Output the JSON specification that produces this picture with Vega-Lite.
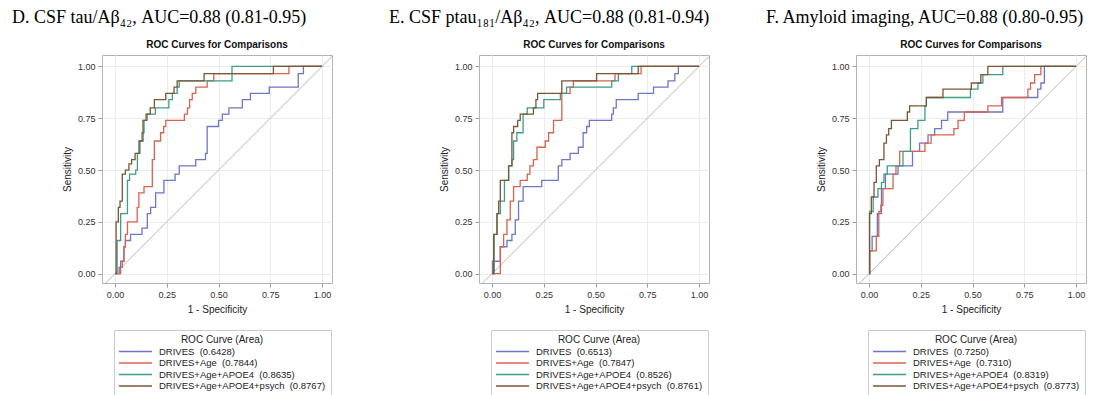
{
  "$schema": "https://vega.github.io/schema/vega-lite/v6.json",
  "padding": {"left": 11, "top": 8, "right": 5, "bottom": 0},
  "background": "white",
  "datasets": {
    "diag": [{"x": -0.1, "y": -0.1}, {"x": 1.1, "y": 1.1}],
    "D": [
      {"c": "DRIVES\u00a0 (0.6428)", "x": 0, "y": 0}, {"c": "DRIVES\u00a0 (0.6428)", "x": 0.02, "y": 0.03}, {"c": "DRIVES\u00a0 (0.6428)", "x": 0.027, "y": 0.06}, {"c": "DRIVES\u00a0 (0.6428)", "x": 0.043, "y": 0.13}, {"c": "DRIVES\u00a0 (0.6428)", "x": 0.05, "y": 0.16}, {"c": "DRIVES\u00a0 (0.6428)", "x": 0.075, "y": 0.19}, {"c": "DRIVES\u00a0 (0.6428)", "x": 0.13, "y": 0.22}, {"c": "DRIVES\u00a0 (0.6428)", "x": 0.156, "y": 0.29}, {"c": "DRIVES\u00a0 (0.6428)", "x": 0.172, "y": 0.32}, {"c": "DRIVES\u00a0 (0.6428)", "x": 0.196, "y": 0.39}, {"c": "DRIVES\u00a0 (0.6428)", "x": 0.236, "y": 0.45}, {"c": "DRIVES\u00a0 (0.6428)", "x": 0.29, "y": 0.48}, {"c": "DRIVES\u00a0 (0.6428)", "x": 0.31, "y": 0.52}, {"c": "DRIVES\u00a0 (0.6428)", "x": 0.39, "y": 0.55}, {"c": "DRIVES\u00a0 (0.6428)", "x": 0.437, "y": 0.58}, {"c": "DRIVES\u00a0 (0.6428)", "x": 0.445, "y": 0.71}, {"c": "DRIVES\u00a0 (0.6428)", "x": 0.5, "y": 0.74}, {"c": "DRIVES\u00a0 (0.6428)", "x": 0.518, "y": 0.77}, {"c": "DRIVES\u00a0 (0.6428)", "x": 0.55, "y": 0.8}, {"c": "DRIVES\u00a0 (0.6428)", "x": 0.615, "y": 0.84}, {"c": "DRIVES\u00a0 (0.6428)", "x": 0.654, "y": 0.87}, {"c": "DRIVES\u00a0 (0.6428)", "x": 0.745, "y": 0.9}, {"c": "DRIVES\u00a0 (0.6428)", "x": 0.885, "y": 0.965}, {"c": "DRIVES\u00a0 (0.6428)", "x": 0.91, "y": 1}, {"c": "DRIVES\u00a0 (0.6428)", "x": 1, "y": 1},
      {"c": "DRIVES+Age\u00a0 (0.7844)", "x": 0, "y": 0}, {"c": "DRIVES+Age\u00a0 (0.7844)", "x": 0.027, "y": 0.03}, {"c": "DRIVES+Age\u00a0 (0.7844)", "x": 0.035, "y": 0.06}, {"c": "DRIVES+Age\u00a0 (0.7844)", "x": 0.043, "y": 0.13}, {"c": "DRIVES+Age\u00a0 (0.7844)", "x": 0.05, "y": 0.19}, {"c": "DRIVES+Age\u00a0 (0.7844)", "x": 0.06, "y": 0.25}, {"c": "DRIVES+Age\u00a0 (0.7844)", "x": 0.107, "y": 0.32}, {"c": "DRIVES+Age\u00a0 (0.7844)", "x": 0.115, "y": 0.39}, {"c": "DRIVES+Age\u00a0 (0.7844)", "x": 0.14, "y": 0.42}, {"c": "DRIVES+Age\u00a0 (0.7844)", "x": 0.18, "y": 0.55}, {"c": "DRIVES+Age\u00a0 (0.7844)", "x": 0.19, "y": 0.64}, {"c": "DRIVES+Age\u00a0 (0.7844)", "x": 0.22, "y": 0.68}, {"c": "DRIVES+Age\u00a0 (0.7844)", "x": 0.235, "y": 0.71}, {"c": "DRIVES+Age\u00a0 (0.7844)", "x": 0.245, "y": 0.74}, {"c": "DRIVES+Age\u00a0 (0.7844)", "x": 0.335, "y": 0.77}, {"c": "DRIVES+Age\u00a0 (0.7844)", "x": 0.35, "y": 0.8}, {"c": "DRIVES+Age\u00a0 (0.7844)", "x": 0.36, "y": 0.84}, {"c": "DRIVES+Age\u00a0 (0.7844)", "x": 0.373, "y": 0.87}, {"c": "DRIVES+Age\u00a0 (0.7844)", "x": 0.39, "y": 0.9}, {"c": "DRIVES+Age\u00a0 (0.7844)", "x": 0.445, "y": 0.93}, {"c": "DRIVES+Age\u00a0 (0.7844)", "x": 0.477, "y": 0.965}, {"c": "DRIVES+Age\u00a0 (0.7844)", "x": 0.84, "y": 1}, {"c": "DRIVES+Age\u00a0 (0.7844)", "x": 1, "y": 1},
      {"c": "DRIVES+Age+APOE4\u00a0 (0.8635)", "x": 0, "y": 0}, {"c": "DRIVES+Age+APOE4\u00a0 (0.8635)", "x": 0.01, "y": 0.16}, {"c": "DRIVES+Age+APOE4\u00a0 (0.8635)", "x": 0.027, "y": 0.29}, {"c": "DRIVES+Age+APOE4\u00a0 (0.8635)", "x": 0.06, "y": 0.45}, {"c": "DRIVES+Age+APOE4\u00a0 (0.8635)", "x": 0.07, "y": 0.48}, {"c": "DRIVES+Age+APOE4\u00a0 (0.8635)", "x": 0.1, "y": 0.5}, {"c": "DRIVES+Age+APOE4\u00a0 (0.8635)", "x": 0.108, "y": 0.58}, {"c": "DRIVES+Age+APOE4\u00a0 (0.8635)", "x": 0.115, "y": 0.64}, {"c": "DRIVES+Age+APOE4\u00a0 (0.8635)", "x": 0.13, "y": 0.68}, {"c": "DRIVES+Age+APOE4\u00a0 (0.8635)", "x": 0.14, "y": 0.74}, {"c": "DRIVES+Age+APOE4\u00a0 (0.8635)", "x": 0.155, "y": 0.77}, {"c": "DRIVES+Age+APOE4\u00a0 (0.8635)", "x": 0.195, "y": 0.8}, {"c": "DRIVES+Age+APOE4\u00a0 (0.8635)", "x": 0.26, "y": 0.84}, {"c": "DRIVES+Age+APOE4\u00a0 (0.8635)", "x": 0.277, "y": 0.87}, {"c": "DRIVES+Age+APOE4\u00a0 (0.8635)", "x": 0.3, "y": 0.9}, {"c": "DRIVES+Age+APOE4\u00a0 (0.8635)", "x": 0.31, "y": 0.93}, {"c": "DRIVES+Age+APOE4\u00a0 (0.8635)", "x": 0.565, "y": 1}, {"c": "DRIVES+Age+APOE4\u00a0 (0.8635)", "x": 1, "y": 1},
      {"c": "DRIVES+Age+APOE4+psych\u00a0 (0.8767)", "x": 0, "y": 0}, {"c": "DRIVES+Age+APOE4+psych\u00a0 (0.8767)", "x": 0.005, "y": 0.25}, {"c": "DRIVES+Age+APOE4+psych\u00a0 (0.8767)", "x": 0.016, "y": 0.32}, {"c": "DRIVES+Age+APOE4+psych\u00a0 (0.8767)", "x": 0.024, "y": 0.35}, {"c": "DRIVES+Age+APOE4+psych\u00a0 (0.8767)", "x": 0.035, "y": 0.48}, {"c": "DRIVES+Age+APOE4+psych\u00a0 (0.8767)", "x": 0.05, "y": 0.5}, {"c": "DRIVES+Age+APOE4+psych\u00a0 (0.8767)", "x": 0.067, "y": 0.53}, {"c": "DRIVES+Age+APOE4+psych\u00a0 (0.8767)", "x": 0.08, "y": 0.55}, {"c": "DRIVES+Age+APOE4+psych\u00a0 (0.8767)", "x": 0.097, "y": 0.58}, {"c": "DRIVES+Age+APOE4+psych\u00a0 (0.8767)", "x": 0.12, "y": 0.64}, {"c": "DRIVES+Age+APOE4+psych\u00a0 (0.8767)", "x": 0.135, "y": 0.74}, {"c": "DRIVES+Age+APOE4+psych\u00a0 (0.8767)", "x": 0.15, "y": 0.77}, {"c": "DRIVES+Age+APOE4+psych\u00a0 (0.8767)", "x": 0.17, "y": 0.8}, {"c": "DRIVES+Age+APOE4+psych\u00a0 (0.8767)", "x": 0.19, "y": 0.84}, {"c": "DRIVES+Age+APOE4+psych\u00a0 (0.8767)", "x": 0.245, "y": 0.87}, {"c": "DRIVES+Age+APOE4+psych\u00a0 (0.8767)", "x": 0.285, "y": 0.9}, {"c": "DRIVES+Age+APOE4+psych\u00a0 (0.8767)", "x": 0.3, "y": 0.93}, {"c": "DRIVES+Age+APOE4+psych\u00a0 (0.8767)", "x": 0.43, "y": 0.965}, {"c": "DRIVES+Age+APOE4+psych\u00a0 (0.8767)", "x": 0.765, "y": 1}, {"c": "DRIVES+Age+APOE4+psych\u00a0 (0.8767)", "x": 1, "y": 1}
    ],
    "E": [
      {"c": "DRIVES\u00a0 (0.6513)", "x": 0, "y": 0}, {"c": "DRIVES\u00a0 (0.6513)", "x": 0.002, "y": 0.06}, {"c": "DRIVES\u00a0 (0.6513)", "x": 0.04, "y": 0.13}, {"c": "DRIVES\u00a0 (0.6513)", "x": 0.072, "y": 0.16}, {"c": "DRIVES\u00a0 (0.6513)", "x": 0.096, "y": 0.19}, {"c": "DRIVES\u00a0 (0.6513)", "x": 0.112, "y": 0.26}, {"c": "DRIVES\u00a0 (0.6513)", "x": 0.128, "y": 0.35}, {"c": "DRIVES\u00a0 (0.6513)", "x": 0.15, "y": 0.42}, {"c": "DRIVES\u00a0 (0.6513)", "x": 0.24, "y": 0.45}, {"c": "DRIVES\u00a0 (0.6513)", "x": 0.32, "y": 0.52}, {"c": "DRIVES\u00a0 (0.6513)", "x": 0.337, "y": 0.55}, {"c": "DRIVES\u00a0 (0.6513)", "x": 0.377, "y": 0.58}, {"c": "DRIVES\u00a0 (0.6513)", "x": 0.417, "y": 0.61}, {"c": "DRIVES\u00a0 (0.6513)", "x": 0.44, "y": 0.68}, {"c": "DRIVES\u00a0 (0.6513)", "x": 0.457, "y": 0.71}, {"c": "DRIVES\u00a0 (0.6513)", "x": 0.47, "y": 0.74}, {"c": "DRIVES\u00a0 (0.6513)", "x": 0.578, "y": 0.77}, {"c": "DRIVES\u00a0 (0.6513)", "x": 0.586, "y": 0.8}, {"c": "DRIVES\u00a0 (0.6513)", "x": 0.6, "y": 0.84}, {"c": "DRIVES\u00a0 (0.6513)", "x": 0.706, "y": 0.87}, {"c": "DRIVES\u00a0 (0.6513)", "x": 0.78, "y": 0.9}, {"c": "DRIVES\u00a0 (0.6513)", "x": 0.85, "y": 0.93}, {"c": "DRIVES\u00a0 (0.6513)", "x": 0.883, "y": 0.965}, {"c": "DRIVES\u00a0 (0.6513)", "x": 0.9, "y": 1}, {"c": "DRIVES\u00a0 (0.6513)", "x": 1, "y": 1},
      {"c": "DRIVES+Age\u00a0 (0.7847)", "x": 0, "y": 0}, {"c": "DRIVES+Age\u00a0 (0.7847)", "x": 0.04, "y": 0.13}, {"c": "DRIVES+Age\u00a0 (0.7847)", "x": 0.056, "y": 0.19}, {"c": "DRIVES+Age\u00a0 (0.7847)", "x": 0.072, "y": 0.26}, {"c": "DRIVES+Age\u00a0 (0.7847)", "x": 0.088, "y": 0.35}, {"c": "DRIVES+Age\u00a0 (0.7847)", "x": 0.104, "y": 0.42}, {"c": "DRIVES+Age\u00a0 (0.7847)", "x": 0.136, "y": 0.45}, {"c": "DRIVES+Age\u00a0 (0.7847)", "x": 0.17, "y": 0.48}, {"c": "DRIVES+Age\u00a0 (0.7847)", "x": 0.183, "y": 0.52}, {"c": "DRIVES+Age\u00a0 (0.7847)", "x": 0.2, "y": 0.55}, {"c": "DRIVES+Age\u00a0 (0.7847)", "x": 0.217, "y": 0.61}, {"c": "DRIVES+Age\u00a0 (0.7847)", "x": 0.257, "y": 0.64}, {"c": "DRIVES+Age\u00a0 (0.7847)", "x": 0.273, "y": 0.68}, {"c": "DRIVES+Age\u00a0 (0.7847)", "x": 0.297, "y": 0.74}, {"c": "DRIVES+Age\u00a0 (0.7847)", "x": 0.337, "y": 0.87}, {"c": "DRIVES+Age\u00a0 (0.7847)", "x": 0.377, "y": 0.9}, {"c": "DRIVES+Age\u00a0 (0.7847)", "x": 0.393, "y": 0.93}, {"c": "DRIVES+Age\u00a0 (0.7847)", "x": 0.594, "y": 0.965}, {"c": "DRIVES+Age\u00a0 (0.7847)", "x": 0.72, "y": 1}, {"c": "DRIVES+Age\u00a0 (0.7847)", "x": 1, "y": 1},
      {"c": "DRIVES+Age+APOE4\u00a0 (0.8526)", "x": 0, "y": 0}, {"c": "DRIVES+Age+APOE4\u00a0 (0.8526)", "x": 0.01, "y": 0.19}, {"c": "DRIVES+Age+APOE4\u00a0 (0.8526)", "x": 0.024, "y": 0.29}, {"c": "DRIVES+Age+APOE4\u00a0 (0.8526)", "x": 0.04, "y": 0.35}, {"c": "DRIVES+Age+APOE4\u00a0 (0.8526)", "x": 0.06, "y": 0.45}, {"c": "DRIVES+Age+APOE4\u00a0 (0.8526)", "x": 0.08, "y": 0.52}, {"c": "DRIVES+Age+APOE4\u00a0 (0.8526)", "x": 0.096, "y": 0.55}, {"c": "DRIVES+Age+APOE4\u00a0 (0.8526)", "x": 0.104, "y": 0.64}, {"c": "DRIVES+Age+APOE4\u00a0 (0.8526)", "x": 0.12, "y": 0.68}, {"c": "DRIVES+Age+APOE4\u00a0 (0.8526)", "x": 0.15, "y": 0.77}, {"c": "DRIVES+Age+APOE4\u00a0 (0.8526)", "x": 0.17, "y": 0.8}, {"c": "DRIVES+Age+APOE4\u00a0 (0.8526)", "x": 0.25, "y": 0.84}, {"c": "DRIVES+Age+APOE4\u00a0 (0.8526)", "x": 0.33, "y": 0.87}, {"c": "DRIVES+Age+APOE4\u00a0 (0.8526)", "x": 0.36, "y": 0.9}, {"c": "DRIVES+Age+APOE4\u00a0 (0.8526)", "x": 0.578, "y": 0.93}, {"c": "DRIVES+Age+APOE4\u00a0 (0.8526)", "x": 0.61, "y": 0.965}, {"c": "DRIVES+Age+APOE4\u00a0 (0.8526)", "x": 0.675, "y": 1}, {"c": "DRIVES+Age+APOE4\u00a0 (0.8526)", "x": 1, "y": 1},
      {"c": "DRIVES+Age+APOE4+psych\u00a0 (0.8761)", "x": 0, "y": 0}, {"c": "DRIVES+Age+APOE4+psych\u00a0 (0.8761)", "x": 0.008, "y": 0.19}, {"c": "DRIVES+Age+APOE4+psych\u00a0 (0.8761)", "x": 0.024, "y": 0.29}, {"c": "DRIVES+Age+APOE4+psych\u00a0 (0.8761)", "x": 0.032, "y": 0.35}, {"c": "DRIVES+Age+APOE4+psych\u00a0 (0.8761)", "x": 0.04, "y": 0.45}, {"c": "DRIVES+Age+APOE4+psych\u00a0 (0.8761)", "x": 0.08, "y": 0.52}, {"c": "DRIVES+Age+APOE4+psych\u00a0 (0.8761)", "x": 0.096, "y": 0.68}, {"c": "DRIVES+Age+APOE4+psych\u00a0 (0.8761)", "x": 0.104, "y": 0.71}, {"c": "DRIVES+Age+APOE4+psych\u00a0 (0.8761)", "x": 0.124, "y": 0.74}, {"c": "DRIVES+Age+APOE4+psych\u00a0 (0.8761)", "x": 0.136, "y": 0.77}, {"c": "DRIVES+Age+APOE4+psych\u00a0 (0.8761)", "x": 0.2, "y": 0.8}, {"c": "DRIVES+Age+APOE4+psych\u00a0 (0.8761)", "x": 0.212, "y": 0.84}, {"c": "DRIVES+Age+APOE4+psych\u00a0 (0.8761)", "x": 0.22, "y": 0.87}, {"c": "DRIVES+Age+APOE4+psych\u00a0 (0.8761)", "x": 0.337, "y": 0.93}, {"c": "DRIVES+Age+APOE4+psych\u00a0 (0.8761)", "x": 0.505, "y": 0.965}, {"c": "DRIVES+Age+APOE4+psych\u00a0 (0.8761)", "x": 0.706, "y": 1}, {"c": "DRIVES+Age+APOE4+psych\u00a0 (0.8761)", "x": 1, "y": 1}
    ],
    "F": [
      {"c": "DRIVES\u00a0 (0.7250)", "x": 0, "y": 0}, {"c": "DRIVES\u00a0 (0.7250)", "x": 0.003, "y": 0.11}, {"c": "DRIVES\u00a0 (0.7250)", "x": 0.015, "y": 0.18}, {"c": "DRIVES\u00a0 (0.7250)", "x": 0.04, "y": 0.29}, {"c": "DRIVES\u00a0 (0.7250)", "x": 0.06, "y": 0.41}, {"c": "DRIVES\u00a0 (0.7250)", "x": 0.079, "y": 0.48}, {"c": "DRIVES\u00a0 (0.7250)", "x": 0.14, "y": 0.52}, {"c": "DRIVES\u00a0 (0.7250)", "x": 0.21, "y": 0.59}, {"c": "DRIVES\u00a0 (0.7250)", "x": 0.244, "y": 0.63}, {"c": "DRIVES\u00a0 (0.7250)", "x": 0.285, "y": 0.67}, {"c": "DRIVES\u00a0 (0.7250)", "x": 0.317, "y": 0.7}, {"c": "DRIVES\u00a0 (0.7250)", "x": 0.35, "y": 0.74}, {"c": "DRIVES\u00a0 (0.7250)", "x": 0.38, "y": 0.78}, {"c": "DRIVES\u00a0 (0.7250)", "x": 0.646, "y": 0.85}, {"c": "DRIVES\u00a0 (0.7250)", "x": 0.815, "y": 0.89}, {"c": "DRIVES\u00a0 (0.7250)", "x": 0.83, "y": 0.92}, {"c": "DRIVES\u00a0 (0.7250)", "x": 0.847, "y": 1}, {"c": "DRIVES\u00a0 (0.7250)", "x": 1, "y": 1},
      {"c": "DRIVES+Age\u00a0 (0.7310)", "x": 0, "y": 0}, {"c": "DRIVES+Age\u00a0 (0.7310)", "x": 0.003, "y": 0.11}, {"c": "DRIVES+Age\u00a0 (0.7310)", "x": 0.035, "y": 0.18}, {"c": "DRIVES+Age\u00a0 (0.7310)", "x": 0.047, "y": 0.3}, {"c": "DRIVES+Age\u00a0 (0.7310)", "x": 0.057, "y": 0.33}, {"c": "DRIVES+Age\u00a0 (0.7310)", "x": 0.067, "y": 0.41}, {"c": "DRIVES+Age\u00a0 (0.7310)", "x": 0.116, "y": 0.48}, {"c": "DRIVES+Age\u00a0 (0.7310)", "x": 0.13, "y": 0.52}, {"c": "DRIVES+Age\u00a0 (0.7310)", "x": 0.148, "y": 0.59}, {"c": "DRIVES+Age\u00a0 (0.7310)", "x": 0.27, "y": 0.63}, {"c": "DRIVES+Age\u00a0 (0.7310)", "x": 0.3, "y": 0.67}, {"c": "DRIVES+Age\u00a0 (0.7310)", "x": 0.41, "y": 0.7}, {"c": "DRIVES+Age\u00a0 (0.7310)", "x": 0.43, "y": 0.74}, {"c": "DRIVES+Age\u00a0 (0.7310)", "x": 0.46, "y": 0.78}, {"c": "DRIVES+Age\u00a0 (0.7310)", "x": 0.574, "y": 0.81}, {"c": "DRIVES+Age\u00a0 (0.7310)", "x": 0.64, "y": 0.85}, {"c": "DRIVES+Age\u00a0 (0.7310)", "x": 0.767, "y": 0.89}, {"c": "DRIVES+Age\u00a0 (0.7310)", "x": 0.78, "y": 0.92}, {"c": "DRIVES+Age\u00a0 (0.7310)", "x": 0.8, "y": 0.96}, {"c": "DRIVES+Age\u00a0 (0.7310)", "x": 0.83, "y": 1}, {"c": "DRIVES+Age\u00a0 (0.7310)", "x": 1, "y": 1},
      {"c": "DRIVES+Age+APOE4\u00a0 (0.8319)", "x": 0, "y": 0}, {"c": "DRIVES+Age+APOE4\u00a0 (0.8319)", "x": 0.003, "y": 0.3}, {"c": "DRIVES+Age+APOE4\u00a0 (0.8319)", "x": 0.02, "y": 0.37}, {"c": "DRIVES+Age+APOE4\u00a0 (0.8319)", "x": 0.043, "y": 0.41}, {"c": "DRIVES+Age+APOE4\u00a0 (0.8319)", "x": 0.06, "y": 0.44}, {"c": "DRIVES+Age+APOE4\u00a0 (0.8319)", "x": 0.072, "y": 0.48}, {"c": "DRIVES+Age+APOE4\u00a0 (0.8319)", "x": 0.088, "y": 0.52}, {"c": "DRIVES+Age+APOE4\u00a0 (0.8319)", "x": 0.164, "y": 0.59}, {"c": "DRIVES+Age+APOE4\u00a0 (0.8319)", "x": 0.2, "y": 0.7}, {"c": "DRIVES+Age+APOE4\u00a0 (0.8319)", "x": 0.236, "y": 0.74}, {"c": "DRIVES+Age+APOE4\u00a0 (0.8319)", "x": 0.27, "y": 0.81}, {"c": "DRIVES+Age+APOE4\u00a0 (0.8319)", "x": 0.277, "y": 0.85}, {"c": "DRIVES+Age+APOE4\u00a0 (0.8319)", "x": 0.49, "y": 0.89}, {"c": "DRIVES+Age+APOE4\u00a0 (0.8319)", "x": 0.526, "y": 0.92}, {"c": "DRIVES+Age+APOE4\u00a0 (0.8319)", "x": 0.55, "y": 0.96}, {"c": "DRIVES+Age+APOE4\u00a0 (0.8319)", "x": 0.646, "y": 1}, {"c": "DRIVES+Age+APOE4\u00a0 (0.8319)", "x": 1, "y": 1},
      {"c": "DRIVES+Age+APOE4+psych\u00a0 (0.8773)", "x": 0, "y": 0}, {"c": "DRIVES+Age+APOE4+psych\u00a0 (0.8773)", "x": 0.002, "y": 0.29}, {"c": "DRIVES+Age+APOE4+psych\u00a0 (0.8773)", "x": 0.011, "y": 0.37}, {"c": "DRIVES+Age+APOE4+psych\u00a0 (0.8773)", "x": 0.024, "y": 0.44}, {"c": "DRIVES+Age+APOE4+psych\u00a0 (0.8773)", "x": 0.035, "y": 0.52}, {"c": "DRIVES+Age+APOE4+psych\u00a0 (0.8773)", "x": 0.05, "y": 0.55}, {"c": "DRIVES+Age+APOE4+psych\u00a0 (0.8773)", "x": 0.072, "y": 0.63}, {"c": "DRIVES+Age+APOE4+psych\u00a0 (0.8773)", "x": 0.084, "y": 0.67}, {"c": "DRIVES+Age+APOE4+psych\u00a0 (0.8773)", "x": 0.095, "y": 0.7}, {"c": "DRIVES+Age+APOE4+psych\u00a0 (0.8773)", "x": 0.108, "y": 0.74}, {"c": "DRIVES+Age+APOE4+psych\u00a0 (0.8773)", "x": 0.185, "y": 0.78}, {"c": "DRIVES+Age+APOE4+psych\u00a0 (0.8773)", "x": 0.196, "y": 0.81}, {"c": "DRIVES+Age+APOE4+psych\u00a0 (0.8773)", "x": 0.277, "y": 0.85}, {"c": "DRIVES+Age+APOE4+psych\u00a0 (0.8773)", "x": 0.357, "y": 0.89}, {"c": "DRIVES+Age+APOE4+psych\u00a0 (0.8773)", "x": 0.494, "y": 0.92}, {"c": "DRIVES+Age+APOE4+psych\u00a0 (0.8773)", "x": 0.54, "y": 0.96}, {"c": "DRIVES+Age+APOE4+psych\u00a0 (0.8773)", "x": 0.574, "y": 1}, {"c": "DRIVES+Age+APOE4+psych\u00a0 (0.8773)", "x": 1, "y": 1}
    ]
  },
  "spacing": 55,
  "resolve": {"scale": {"color": "independent"}, "legend": {"color": "independent"}},
  "hconcat": [
    {
      "title": {"text": "D. CSF tau/Aβ₄₂, AUC=0.88 (0.81-0.95)", "anchor": "start", "frame": "bounds", "dx": -50, "font": "Liberation Serif", "fontSize": 18, "fontWeight": "normal", "color": "#000", "offset": 13},
      "vconcat": [{
        "width": 230, "height": 228,
        "title": "ROC Curves for Comparisons",
        "encoding": {
          "x": {"field": "x", "type": "quantitative", "scale": {"domain": [-0.063, 1.048], "nice": false, "zero": false}, "axis": {"values": [0, 0.25, 0.5, 0.75, 1], "format": ".2f"}, "title": "1 - Specificity"},
          "y": {"field": "y", "type": "quantitative", "scale": {"domain": [-0.045, 1.055], "nice": false, "zero": false}, "axis": {"values": [0, 0.25, 0.5, 0.75, 1], "format": ".2f"}, "title": "Sensitivity"}
        },
        "layer": [
          {"data": {"name": "diag"}, "mark": {"type": "line", "clip": true, "color": "#b8b8b8", "strokeWidth": 1}},
          {"data": {"name": "D"}, "mark": {"type": "line", "interpolate": "step-after", "strokeWidth": 1.3},
           "encoding": {"color": {"field": "c", "type": "nominal", "scale": {"domain": ["DRIVES\u00a0 (0.6428)", "DRIVES+Age\u00a0 (0.7844)", "DRIVES+Age+APOE4\u00a0 (0.8635)", "DRIVES+Age+APOE4+psych\u00a0 (0.8767)"], "range": ["#6f76c6", "#d8634f", "#3f9c88", "#7b5634"]}, "legend": {"orient": "none", "legendX": 12, "legendY": 275, "title": "ROC Curve (Area)"}}}}
        ]
      }]
    },
    {
      "title": {"text": "E. CSF ptau₁₈₁/Aβ₄₂, AUC=0.88 (0.81-0.94)", "anchor": "start", "frame": "bounds", "dx": -50, "font": "Liberation Serif", "fontSize": 18, "fontWeight": "normal", "color": "#000", "offset": 13},
      "vconcat": [{
        "width": 230, "height": 228,
        "title": "ROC Curves for Comparisons",
        "encoding": {
          "x": {"field": "x", "type": "quantitative", "scale": {"domain": [-0.063, 1.048], "nice": false, "zero": false}, "axis": {"values": [0, 0.25, 0.5, 0.75, 1], "format": ".2f"}, "title": "1 - Specificity"},
          "y": {"field": "y", "type": "quantitative", "scale": {"domain": [-0.045, 1.055], "nice": false, "zero": false}, "axis": {"values": [0, 0.25, 0.5, 0.75, 1], "format": ".2f"}, "title": "Sensitivity"}
        },
        "layer": [
          {"data": {"name": "diag"}, "mark": {"type": "line", "clip": true, "color": "#b8b8b8", "strokeWidth": 1}},
          {"data": {"name": "E"}, "mark": {"type": "line", "interpolate": "step-after", "strokeWidth": 1.3},
           "encoding": {"color": {"field": "c", "type": "nominal", "scale": {"domain": ["DRIVES\u00a0 (0.6513)", "DRIVES+Age\u00a0 (0.7847)", "DRIVES+Age+APOE4\u00a0 (0.8526)", "DRIVES+Age+APOE4+psych\u00a0 (0.8761)"], "range": ["#6f76c6", "#d8634f", "#3f9c88", "#7b5634"]}, "legend": {"orient": "none", "legendX": 12, "legendY": 275, "title": "ROC Curve (Area)"}}}}
        ]
      }]
    },
    {
      "title": {"text": "F. Amyloid imaging, AUC=0.88 (0.80-0.95)", "anchor": "start", "frame": "bounds", "dx": -50, "font": "Liberation Serif", "fontSize": 18, "fontWeight": "normal", "color": "#000", "offset": 13},
      "vconcat": [{
        "width": 230, "height": 228,
        "title": "ROC Curves for Comparisons",
        "encoding": {
          "x": {"field": "x", "type": "quantitative", "scale": {"domain": [-0.063, 1.048], "nice": false, "zero": false}, "axis": {"values": [0, 0.25, 0.5, 0.75, 1], "format": ".2f"}, "title": "1 - Specificity"},
          "y": {"field": "y", "type": "quantitative", "scale": {"domain": [-0.045, 1.055], "nice": false, "zero": false}, "axis": {"values": [0, 0.25, 0.5, 0.75, 1], "format": ".2f"}, "title": "Sensitivity"}
        },
        "layer": [
          {"data": {"name": "diag"}, "mark": {"type": "line", "clip": true, "color": "#b8b8b8", "strokeWidth": 1}},
          {"data": {"name": "F"}, "mark": {"type": "line", "interpolate": "step-after", "strokeWidth": 1.3},
           "encoding": {"color": {"field": "c", "type": "nominal", "scale": {"domain": ["DRIVES\u00a0 (0.7250)", "DRIVES+Age\u00a0 (0.7310)", "DRIVES+Age+APOE4\u00a0 (0.8319)", "DRIVES+Age+APOE4+psych\u00a0 (0.8773)"], "range": ["#6f76c6", "#d8634f", "#3f9c88", "#7b5634"]}, "legend": {"orient": "none", "legendX": 12, "legendY": 275, "title": "ROC Curve (Area)"}}}}
        ]
      }]
    }
  ],
  "config": {
    "font": "Liberation Sans",
    "view": {"stroke": "#b3b3b3", "strokeWidth": 1},
    "title": {"anchor": "middle", "frame": "group", "font": "Liberation Sans", "fontSize": 10, "fontWeight": "bold", "color": "#111", "offset": 5},
    "concat": {"spacing": 55},
    "axis": {"grid": true, "gridColor": "#ececec", "domain": false, "tickSize": 4, "tickColor": "#9a9a9a", "labelFontSize": 9, "labelColor": "#333", "labelPadding": 3, "titleFontSize": 10, "titleFontWeight": "normal", "titleColor": "#222", "titlePadding": 5},
    "legend": {"strokeColor": "#cccccc", "fillColor": "white", "padding": 5, "titleFont": "Liberation Sans", "titleFontSize": 10, "titleFontWeight": "normal", "titleColor": "#222", "titleAnchor": "middle", "titleAlign": "center", "titlePadding": 1, "labelFontSize": 9.5, "labelColor": "#222", "labelLimit": 0, "symbolType": "M-3.67,0H3.67", "symbolSize": 81, "symbolStrokeWidth": 1.5, "symbolOffset": 11, "labelOffset": 18, "rowPadding": 1.5}
  }
}
